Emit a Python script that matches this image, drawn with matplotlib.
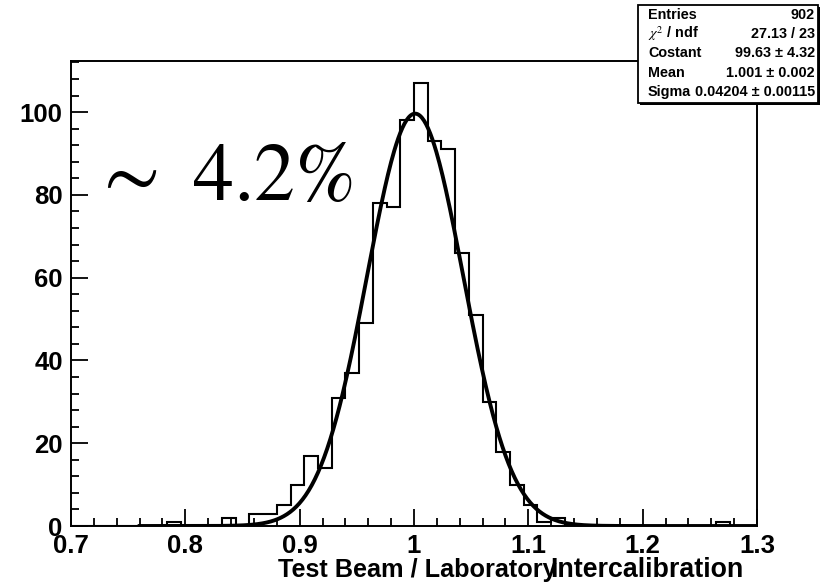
import numpy as np
import matplotlib
matplotlib.use("Agg")
import matplotlib.pyplot as plt
from matplotlib.ticker import MultipleLocator, FixedLocator
from matplotlib.patches import Rectangle

# ---- data ----
bin_lo, bin_hi, n_bins = 0.7, 1.3, 50
counts = [0, 0, 0, 0, 0, 0, 0, 1, 0, 0,
          0, 2, 0, 3, 3, 5, 10, 17, 14, 31,
          37, 49, 78, 77, 98, 107, 93, 91, 66, 51,
          30, 18, 10, 5, 1, 2, 0, 0, 0, 0,
          0, 0, 0, 0, 0, 0, 0, 1, 0, 0]
fit_const, fit_mean, fit_sigma = 99.63, 1.001, 0.04204
fit_lo, fit_hi = 0.76, 1.3
x_ticks = [0.7, 0.8, 0.9, 1.0, 1.1, 1.2, 1.3]
x_ticklabels = ["0.7", "0.8", "0.9", "1", "1.1", "1.2", "1.3"]
y_ticks = [0, 20, 40, 60, 80, 100]
stats_names = ["Entries", r"$\chi^2$ / ndf", "Costant", "Mean", "Sigma"]
stats_values = ["902", "27.13 / 23", "99.63 ± 4.32", "1.001 ± 0.002", "0.04204 ± 0.00115"]
xlabel_a = "Test Beam / Laboratory"
xlabel_b = "Intercalibration"
annotation = r"$\sim$ 4.2%"

W, H = 822, 583
plt.rcParams['mathtext.fontset'] = 'stix'
fig = plt.figure(figsize=(W / 100, H / 100), dpi=100)
fig.patch.set_facecolor("white")

def fx(x):
    return x / W

def fy(y):
    return 1 - y / H

ax = fig.add_axes([fx(71), fy(526), fx(757) - fx(71), fy(61) - fy(526)])
edges = np.linspace(bin_lo, bin_hi, n_bins + 1)
ax.stairs(counts, edges, color="black", lw=1.5, baseline=0)

xf = np.linspace(fit_lo, fit_hi, 600)
yf = fit_const * np.exp(-0.5 * ((xf - fit_mean) / fit_sigma) ** 2)
ax.plot(xf, yf, color="black", lw=2.8)

ax.set_xlim(bin_lo, bin_hi)
ax.set_ylim(0, 1.05 * max(counts))

ax.xaxis.set_major_locator(FixedLocator(x_ticks))
ax.set_xticklabels(x_ticklabels)
ax.xaxis.set_minor_locator(MultipleLocator(0.02))
ax.yaxis.set_major_locator(FixedLocator(y_ticks))
ax.yaxis.set_minor_locator(MultipleLocator(4))
ax.tick_params(which="both", direction="in", top=False, right=False, width=1.3, color="black")
ax.tick_params(which="major", length=12, labelsize=18.5, pad=6)
ax.tick_params(which="minor", length=6)
for lab in ax.get_xticklabels() + ax.get_yticklabels():
    lab.set_fontweight("bold")
    lab.set_fontfamily("Liberation Sans")
for s in ax.spines.values():
    s.set_linewidth(1.4)
    s.set_color("black")

# axis title (two parts, slightly overlapping as in the reference)
fig.text(fx(557), fy(577), xlabel_a, ha="right", va="baseline", fontsize=18.2,
         fontweight="bold", family="Liberation Sans")
fig.text(fx(550), fy(577), xlabel_b, ha="left", va="baseline", fontsize=19.3,
         fontweight="bold", family="Liberation Sans")

# annotation
fig.text(fx(92), fy(200), annotation, ha="left", va="baseline", fontsize=59,
         family="STIXGeneral")

# stats box
shadow = Rectangle((fx(640), fy(105)), fx(820) - fx(640), fy(7) - fy(105),
                   transform=fig.transFigure, facecolor="black", edgecolor="none", zorder=5)
box = Rectangle((fx(638), fy(103)), fx(818) - fx(638), fy(5) - fy(103),
                transform=fig.transFigure, facecolor="white", edgecolor="black", lw=1.3, zorder=6)
fig.patches.extend([shadow, box])
row_y = [15, 34, 53, 73, 92]
for name, val, yy in zip(stats_names, stats_values, row_y):
    fig.text(fx(648), fy(yy), name, ha="left", va="center", fontsize=10.4,
             fontweight="bold", family="Liberation Sans", zorder=7)
    fig.text(fx(815), fy(yy), val, ha="right", va="center", fontsize=10.4,
             fontweight="bold", family="Liberation Sans", zorder=7)

fig.savefig("out.png", dpi=100, facecolor="white")
